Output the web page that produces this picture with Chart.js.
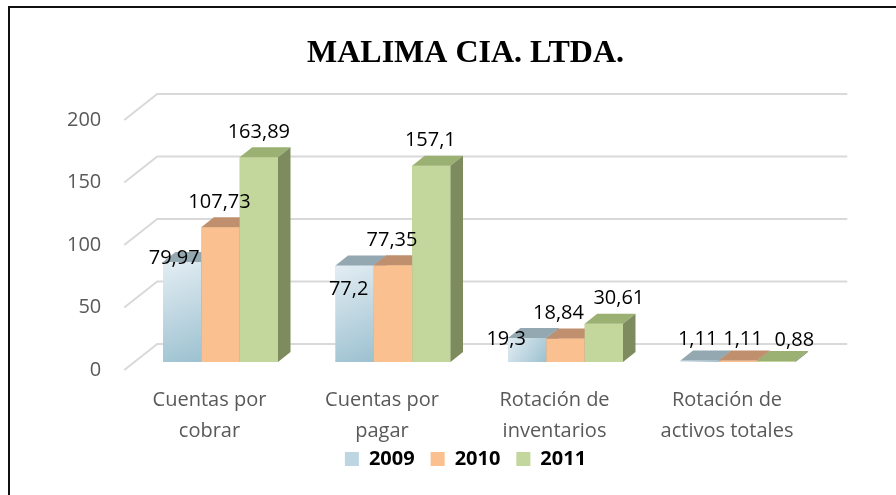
<!DOCTYPE html>
<html>
<head>
<meta charset="utf-8">
<script src="https://cdn.jsdelivr.net/npm/chart.js@4.4.1/dist/chart.umd.min.js"></script>
<style>
  html, body { margin: 0; padding: 0; background: #ffffff; }
  #wrap { width: 896px; height: 495px; position: relative; }
</style>
</head>
<body>
<div id="wrap"><canvas id="c" width="896" height="495"></canvas></div>
<script>
// ---------------- data ----------------
const chartTitle = "MALIMA CIA. LTDA.";
const categories = [
  ["Cuentas por", "cobrar"],
  ["Cuentas por", "pagar"],
  ["Rotación de", "inventarios"],
  ["Rotación de", "activos totales"]
];
const seriesNames = ["2009", "2010", "2011"];
const values2009 = [79.97, 77.2, 19.3, 1.11];
const values2010 = [107.73, 77.35, 18.84, 1.11];
const values2011 = [163.89, 157.1, 30.61, 0.88];
const yTickValues = [0, 50, 100, 150, 200];

// ---------------- styles ----------------
const faceStyles = [
  { front: ['#e3edf3', '#9cc1d0'], flat: '#bdd6e1', top: '#94a8b2', side: '#7f97a3' },
  { front: '#fac090', flat: '#fac090', top: '#c0906e', side: '#b07f5c' },
  { front: '#c3d69b', flat: '#c3d69b', top: '#9bb073', side: '#7d8b5e' }
];
const DEPTH_X = 12.5, DEPTH_Y = -10;           // bar depth projection
const WALL_FRONT = { dx: -10, dy: 8 };          // floor front edge vs bar plane
const WALL_BACK = { dx: 23, dy: -18 };          // back wall vs bar plane
// per-label nudges [dataset][category] (manual label placement in the original)
const labelNudge = [
  [[-8, 21], [-6, 49], [-21, 26], [-2, 4]],
  [[-1, 0], [-1, 0], [-7, 0], [5, 4]],
  [[0, 0], [-1, 0], [15, 0], [18, 4]]
];

const fmt = v => String(v).replace('.', ',');

const bars3d = {
  id: 'bars3d',
  beforeDatasetsDraw(chart) {
    const { ctx, chartArea, scales: { y } } = chart;
    ctx.save();
    ctx.strokeStyle = '#d9d9d9';
    ctx.lineWidth = 2;
    y.ticks.forEach(t => {
      const py = y.getPixelForValue(t.value);
      ctx.beginPath();
      ctx.moveTo(chartArea.left + WALL_FRONT.dx, py + WALL_FRONT.dy);
      ctx.lineTo(chartArea.left + WALL_BACK.dx, py + WALL_BACK.dy);
      ctx.lineTo(chartArea.right + WALL_BACK.dx, py + WALL_BACK.dy);
      ctx.stroke();
    });
    ctx.restore();
  },
  afterDatasetsDraw(chart) {
    const { ctx } = chart;
    const nCat = chart.data.labels.length;
    const nDs = chart.data.datasets.length;
    ctx.save();
    for (let i = 0; i < nCat; i++) {
      for (let d = 0; d < nDs; d++) {
        const el = chart.getDatasetMeta(d).data[i];
        const { x, y: top, base, width } = el.getProps(['x', 'y', 'base', 'width'], true);
        const l = x - width / 2, r = x + width / 2;
        const st = faceStyles[d];
        if (Array.isArray(st.front)) {
          const g = ctx.createLinearGradient(l, top, r, base);
          g.addColorStop(0, st.front[0]);
          g.addColorStop(1, st.front[1]);
          ctx.fillStyle = g;
        } else {
          ctx.fillStyle = st.front;
        }
        ctx.fillRect(l, top, r - l, base - top);
        ctx.fillStyle = st.top;
        ctx.beginPath();
        ctx.moveTo(l, top);
        ctx.lineTo(l + DEPTH_X, top + DEPTH_Y);
        ctx.lineTo(r + DEPTH_X, top + DEPTH_Y);
        ctx.lineTo(r, top);
        ctx.closePath();
        ctx.fill();
        ctx.fillStyle = st.side;
        ctx.beginPath();
        ctx.moveTo(r, top);
        ctx.lineTo(r + DEPTH_X, top + DEPTH_Y);
        ctx.lineTo(r + DEPTH_X, base + DEPTH_Y);
        ctx.lineTo(r, base);
        ctx.closePath();
        ctx.fill();
      }
    }
    ctx.fillStyle = '#000000';
    ctx.font = '20px "Open Sans"';
    ctx.textAlign = 'center';
    ctx.textBaseline = 'middle';
    for (let d = 0; d < nDs; d++) {
      const meta = chart.getDatasetMeta(d);
      meta.data.forEach((el, i) => {
        const { x, y: top } = el.getProps(['x', 'y'], true);
        const nd = labelNudge[d][i];
        ctx.fillText(fmt(chart.data.datasets[d].data[i]), x + nd[0], top - 25 + nd[1]);
      });
    }
    ctx.restore();
  },
  afterDraw(chart) {
    const { ctx } = chart;
    ctx.save();
    ctx.fillStyle = '#111111';
    ctx.fillRect(8, 6, 2, 489);
    ctx.fillRect(8, 6, 888, 2);
    ctx.restore();
  }
};

const seriesValues = [values2009, values2010, values2011];

new Chart(document.getElementById('c'), {
  type: 'bar',
  data: {
    labels: categories,
    datasets: seriesNames.map((name, k) => ({
      label: name,
      data: seriesValues[k],
      backgroundColor: faceStyles[k].flat,
      borderWidth: 0,
      categoryPercentage: 0.6667,
      barPercentage: 1.0
    }))
  },
  options: {
    responsive: false,
    animation: false,
    devicePixelRatio: 1,
    layout: { padding: { left: 106.75, right: 71.75, top: 0, bottom: 16 } },
    plugins: {
      title: {
        display: true,
        text: chartTitle,
        color: '#000000',
        font: { family: '"Liberation Serif", "Times New Roman", serif', size: 32, weight: 'bold' },
        padding: { top: 34.3, bottom: 39.3 }
      },
      legend: {
        position: 'bottom',
        labels: {
          color: '#000000',
          font: { family: '"Open Sans"', size: 20, weight: 'bold' },
          boxWidth: 14,
          boxHeight: 14,
          padding: 16
        }
      },
      tooltip: { enabled: false }
    },
    scales: {
      x: {
        grid: { display: false, drawTicks: false },
        border: { display: false },
        ticks: {
          color: '#595959',
          font: { family: '"Open Sans"', size: 20, lineHeight: 1.55 },
          padding: -53.5,
          labelOffset: -11,
          maxRotation: 0,
          autoSkip: false,
          mirror: true
        },
        afterFit(scale) { scale.height = 71; }
      },
      y: {
        min: 0,
        max: 200,
        grid: { display: false, drawTicks: false },
        border: { display: false },
        afterBuildTicks(scale) { scale.ticks = yTickValues.map(v => ({ value: v })); },
        ticks: {
          color: '#595959',
          font: { family: '"Open Sans"', size: 20 },
          mirror: true,
          crossAlign: 'far',
          padding: -67.3,
          labelOffset: 8
        },
        afterFit(scale) { scale.width = 27.5; }
      }
    }
  },
  plugins: [bars3d]
});
</script>
</body>
</html>
